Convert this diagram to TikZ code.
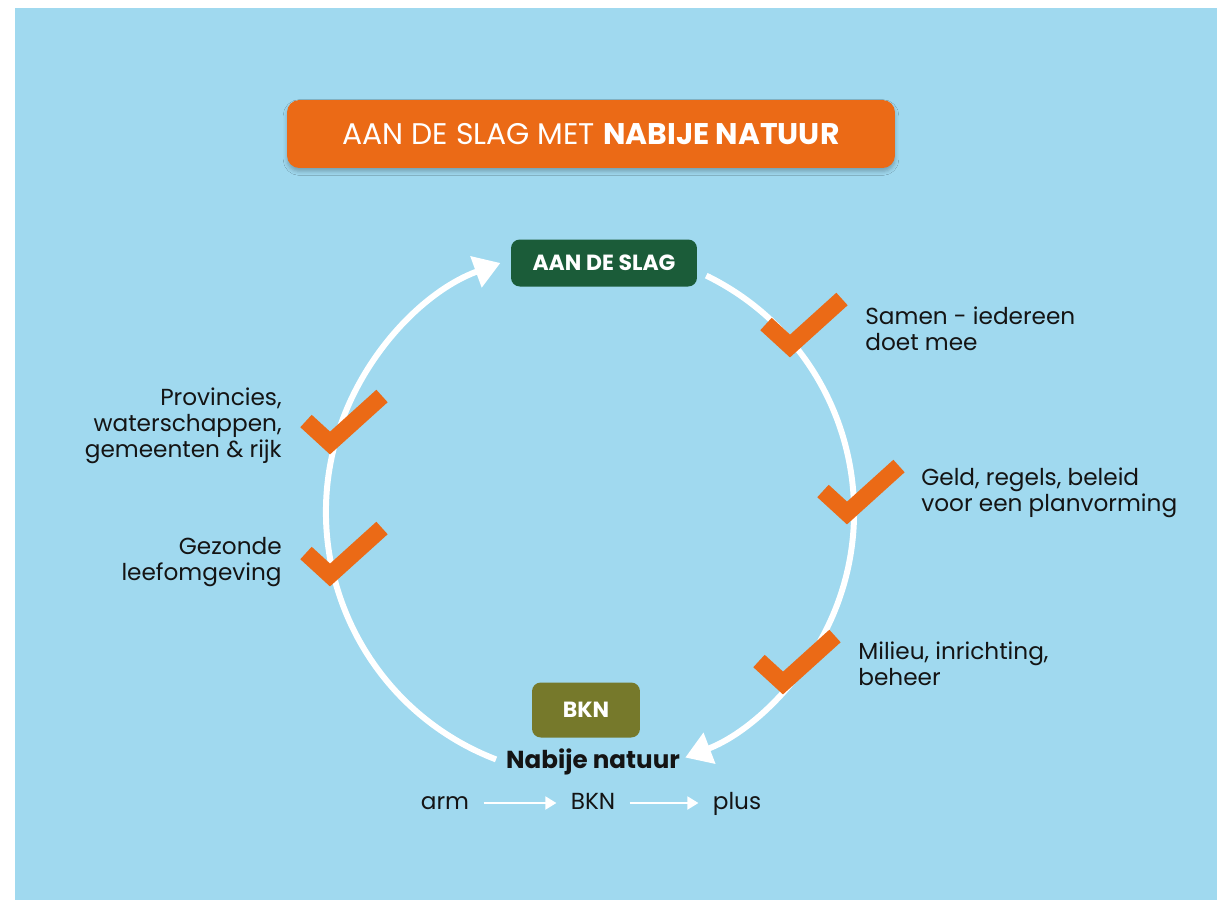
\documentclass[tikz,border=0pt]{standalone}
\usepackage{fontspec}
\setmainfont{Poppins}
\usetikzlibrary{arrows.meta, positioning, shadows.blur}

\definecolor{lucht}{HTML}{A0D9EF}
\definecolor{oranje}{HTML}{EB6A16}
\definecolor{bosgroen}{HTML}{1B5C39}
\definecolor{olijf}{HTML}{76792B}
\definecolor{inkt}{HTML}{141414}

\begin{document}
\begin{tikzpicture}[x=0.02cm, y=0.02cm,
    kop/.style={fill=oranje, rounded corners=7pt, minimum width=12.16cm, minimum height=1.36cm, text=white, font=\fontsize{17}{20}\selectfont, blur shadow={shadow xshift=0pt, shadow yshift=-2pt, shadow opacity=25}},
    blok/.style={rounded corners=5pt, text=white, font=\bfseries\fontsize{12.5}{14}\selectfont},
    label/.style={inner sep=0pt, text=inkt, font=\fontsize{13.2}{14.8}\selectfont},
    rij/.style={label, text height=1.5ex, text depth=0.25ex},
    kring/.style={draw=white, line width=3.4pt, -{Triangle[length=0.52cm, width=0.64cm]}},
    pijl/.style={draw=white, line width=1.1pt, -{Triangle[length=0.22cm, width=0.26cm]}, shorten <=8pt, shorten >=8pt},
    pics/vink/.style={code={\draw[oranje, line width=9.6pt, line join=miter] (-24,22) -- (0,0) -- (52,47);}}
]
    % achtergrond
    \fill[white] (0,0) rectangle (1217,-900);
    \fill[lucht] (15,-8) rectangle (1217,-900);
    \useasboundingbox (0,0) rectangle (1217,-900);

    \node[kop] (titel) at (591,-134) {AAN DE SLAG MET \textbf{NABIJE NATUUR}};

    % kringloop
    \coordinate (midden) at (591,-512);
    \path (midden) ++(249:265) coordinate (linksbegin);
    \path (midden) ++(64:263) coordinate (rechtsbegin);
    \draw[kring] (linksbegin) arc[start angle=249, end angle=110, radius=265];
    \draw[kring] (rechtsbegin) arc[start angle=64, end angle=-69, radius=263];

    \node[blok, fill=bosgroen, minimum width=3.72cm, minimum height=0.94cm] (slag) at (604,-263) {AAN DE SLAG};
    \node[blok, fill=olijf, minimum width=2.16cm, minimum height=1.1cm] (bkn) at (586,-710) {BKN};
    \node[inner sep=0pt, text=inkt, font=\bfseries\fontsize{14}{16}\selectfont] (nabije) at (593,-762) {Nabije natuur};

    \node[rij] (arm) at (445,-803) {arm};
    \node[rij] (bkntekst) at (593,-803) {BKN};
    \node[rij] (plus) at (737,-803) {plus};
    \draw[pijl] (arm) -- (bkntekst);
    \draw[pijl] (bkntekst) -- (plus);

    % vinkjes
    \pic at (790,-346) {vink};
    \pic at (847,-513) {vink};
    \pic at (783,-683) {vink};
    \pic at (330,-443) {vink};
    \pic at (330,-575) {vink};

    \node[label, anchor=west, align=left] (samen) at (865,-329) {Samen - iedereen\\doet mee};
    \node[label, anchor=west, align=left] (geld) at (921,-493) {Geld, regels, beleid\\voor een planvorming};
    \node[label, anchor=west, align=left] (milieu) at (858,-664) {Milieu, inrichting,\\beheer};
    \node[label, anchor=east, align=right] (provincies) at (282,-426) {Provincies,\\waterschappen,\\gemeenten \& rijk};
    \node[label, anchor=east, align=right] (gezonde) at (282,-562) {Gezonde\\leefomgeving};
\end{tikzpicture}
\end{document}
